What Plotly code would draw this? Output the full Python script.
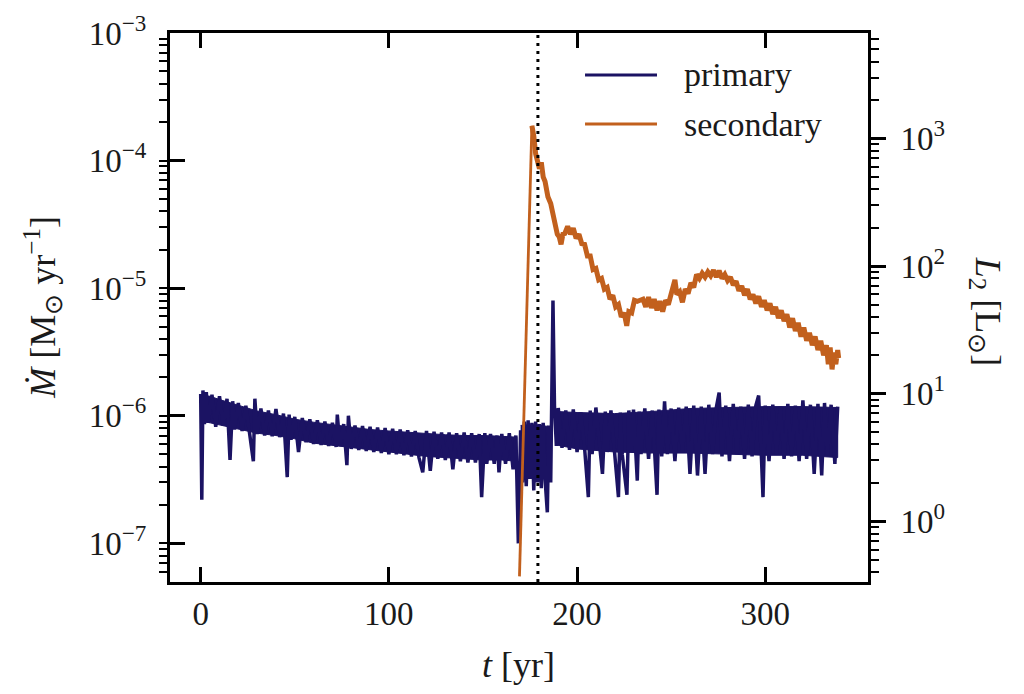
import plotly.graph_objects as go

# primary mass-loss rate (units of 1e-7 Msun/yr)
t_primary = [
    0.0, 0.6, 1.2, 2, 3, 4, 6, 8, 10, 12, 14, 15.6, 17, 18, 20, 22, 24, 26, 28, 28.8,
    30, 32, 34, 36, 38, 40, 42, 44, 46, 47, 48, 50, 52, 54, 56, 58, 60, 62, 64, 66,
    68, 70, 72, 72.6, 74, 76, 77.7, 78.5, 80, 82, 84, 86, 88, 90, 92, 94, 96, 98, 100, 102,
    104, 106, 108, 110, 112, 114, 116, 118, 120, 122, 124, 126, 128, 130, 132, 134, 136, 138, 140, 142,
    144, 146, 148, 149.3, 151, 152, 154, 156, 157.5, 158.5, 160, 162, 164, 166, 167.5, 168.8, 170, 171, 172, 173,
    174, 175, 176, 177, 178, 179, 180, 181, 182, 183, 184.2, 185, 186, 187.2, 188, 189, 190, 192, 194, 196,
    198, 200, 202, 204, 206, 207, 208, 210, 212, 213.5, 215, 216, 218, 220, 222, 223, 224, 226.5, 227.5, 229,
    230, 232, 233, 234, 236, 238, 240, 242.5, 243.5, 245, 246.5, 248, 250, 252, 254, 256, 258, 260, 262, 264,
    266, 268, 270, 272, 274, 275.5, 277, 279, 281, 283, 285, 287, 289, 291, 293, 295, 296.5, 298, 298.8, 300,
    302, 304, 306, 308, 310, 312, 314, 316, 318, 320, 322, 324, 326, 328, 330, 331.5, 333, 335, 337, 338.5,
]
mdot_primary = [
    14.8, 2.2, 15.8, 8.6, 15.3, 8.8, 14.6, 8.2, 14.2, 8.4, 13.6, 4.5, 13.0, 7.8, 12.6, 7.6, 12.0, 7.4, 4.4, 13.6,
    7.2, 11.4, 7.0, 11.0, 6.9, 11.3, 6.8, 10.4, 3.3, 10.2, 6.5, 9.8, 5.2, 9.6, 6.2, 9.4, 6.0, 9.2, 5.9, 9.0,
    5.8, 8.8, 5.7, 10.2, 5.8, 8.6, 4.1, 10.0, 5.5, 8.4, 5.4, 8.3, 5.3, 8.2, 5.2, 8.1, 5.1, 8.0, 5.0, 7.9,
    5.0, 7.8, 4.9, 7.7, 4.8, 7.6, 4.7, 3.6, 7.6, 3.7, 7.5, 4.6, 7.4, 4.5, 7.4, 3.8, 7.3, 4.4, 7.4, 4.3,
    7.3, 4.3, 7.2, 2.3, 7.3, 4.2, 7.2, 4.2, 7.0, 3.6, 7.2, 4.2, 7.3, 3.8, 7.0, 1.0, 7.7, 3.0, 9.0, 2.8,
    9.2, 3.2, 8.8, 2.6, 9.0, 3.0, 8.6, 2.7, 8.8, 3.2, 1.75, 8.4, 3.0, 80.0, 12.0, 5.8, 11.5, 5.6, 11.0, 5.4,
    11.2, 5.2, 10.6, 5.6, 2.3, 11.0, 5.0, 11.6, 5.4, 3.5, 10.8, 5.2, 11.0, 4.8, 2.3, 10.6, 5.0, 2.4, 11.0, 5.2,
    11.2, 3.1, 10.8, 5.0, 11.4, 4.6, 11.0, 2.4, 11.2, 4.8, 13.0, 5.0, 11.4, 4.4, 11.6, 5.2, 11.8, 3.5, 12.0, 3.4,
    11.8, 3.5, 12.2, 5.0, 11.6, 15.2, 4.8, 12.0, 4.4, 12.4, 5.0, 11.8, 4.6, 12.2, 4.8, 12.0, 14.4, 4.6, 2.3, 12.0,
    4.4, 12.2, 5.0, 11.8, 4.6, 12.4, 4.8, 12.0, 4.4, 13.2, 4.6, 12.2, 3.5, 12.4, 3.4, 12.6, 4.8, 12.2, 4.2, 11.8,
]

# dense part of the primary's noise band (upper / lower edge, 1e-7 Msun/yr)
band_t = [1.5, 5, 10, 20, 30, 40, 50, 60, 70, 80, 90, 100, 110, 120, 130, 140, 150, 160, 168,
          None, 170, 178, 186,
          None, 189, 200, 220, 240, 260, 280, 300, 320, 338.5]
band_hi = [14.5, 14.2, 13.4, 12.0, 10.9, 10.2, 9.4, 8.9, 8.5, 8.1, 7.8, 7.6, 7.4, 7.2, 7.1, 7.0, 7.0, 6.9, 6.8,
           None, 8.4, 8.5, 8.2,
           None, 10.8, 10.6, 10.4, 10.8, 11.4, 11.6, 11.8, 11.8, 11.6]
band_lo = [9.0, 8.8, 8.5, 7.9, 7.3, 7.0, 6.6, 6.1, 5.9, 5.6, 5.4, 5.2, 5.0, 4.8, 4.7, 4.6, 4.5, 4.5, 4.4,
           None, 3.3, 3.2, 3.3,
           None, 5.9, 5.5, 5.2, 5.1, 5.1, 5.0, 4.9, 4.9, 4.7]

# secondary L2 luminosity [Lsun]: initial rise, then the noisy decline
t_rise = [169.4, 176.0]
l2_rise = [0.37, 1260]
t_secondary = [
    176.0, 177.0, 178.0, 179.0, 180.0, 181.0, 182.0, 183.0, 184.5, 186.0, 187.5, 188.5, 189.5, 190.5,
    191.5, 192.5, 193.5, 195.0, 196.5, 198.0, 199.5, 201.0, 202.5, 204.0, 205.5, 207.0, 208.5, 210.0, 211.5,
    213.0, 214.5, 216.0, 217.5, 219.0, 220.5, 222.0, 223.5, 225.0, 226.4, 227.5, 229.0, 230.5, 232.0, 233.5,
    235.0, 236.5, 238.0, 239.5, 241.0, 242.5, 244.0, 245.5, 247.0, 248.5, 250.0, 251.0, 252.0, 253.0, 254.5,
    256.0, 257.5, 259.0, 260.5, 262.0, 263.5, 265.0, 266.5, 268.0, 269.5, 271.0, 272.5, 274.0, 275.5, 277.0,
    278.5, 280.0, 281.5, 283.0, 284.5, 286.0, 287.5, 289.0, 290.5, 292.0, 293.5, 295.0, 296.5, 298.0, 299.5,
    301.0, 302.5, 304.0, 305.5, 307.0, 308.5, 310.0, 311.5, 313.0, 314.5, 316.0, 317.5, 319.0, 320.5, 322.0,
    323.5, 325.0, 326.5, 328.0, 329.5, 331.0, 332.5, 333.5, 334.5, 335.5, 336.5, 337.5, 338.5, 339.0,
]
l2_secondary = [
    1260, 1050, 760, 620, 580, 650, 500, 460, 350, 310, 240, 225, 178, 170,
    148, 178, 180, 205, 178, 198, 165, 178, 150, 148, 120, 120, 94, 96, 78,
    80, 66, 68, 55, 59, 48, 50, 40, 43, 34, 44, 43, 54, 53, 54,
    55, 48, 57, 47, 55, 45, 53, 44, 54, 50, 61, 66, 78, 60, 63,
    52, 66, 61, 74, 68, 86, 80, 88, 82, 90, 84, 93, 82, 92, 80,
    86, 77, 82, 71, 76, 64, 70, 59, 66, 55, 60, 51, 58, 48, 54,
    45, 51, 42, 48, 39, 45, 37, 42, 33, 39, 31, 36, 28, 33, 26,
    30, 24, 28, 22, 26, 20, 24, 17, 23, 15.5, 21, 17, 22, 19,
]

t_disk = 179.2
legend_names = ["primary", "secondary"]
mdot_ticks = [1e-7, 1e-6, 1e-5, 1e-4, 1e-3]
mdot_ticktext = ["10<sup>−7</sup>", "10<sup>−6</sup>", "10<sup>−5</sup>", "10<sup>−4</sup>", "10<sup>−3</sup>"]
l2_ticks = [1, 10, 100, 1000]
l2_ticktext = ["10<sup>0</sup>", "10<sup>1</sup>", "10<sup>2</sup>", "10<sup>3</sup>"]

navy = "#1b1363"
orange = "#c2601d"
serif = "Liberation Serif"
ink = "#1a1a1a"


def scale(vals, f):
    return [None if v is None else v * f for v in vals]


def polygon(xs, hi, lo):
    # closed outline per segment (segments split by None)
    px, py, seg = [], [], []
    for x, a, b in list(zip(xs, hi, lo)) + [(None, None, None)]:
        if x is None:
            if seg:
                px += [s[0] for s in seg] + [s[0] for s in seg[::-1]] + [None]
                py += [s[1] for s in seg] + [s[2] for s in seg[::-1]] + [None]
            seg = []
        else:
            seg.append((x, a, b))
    return px, py


fig = go.Figure()
bx, by = polygon(band_t, scale(band_hi, 1e-7), scale(band_lo, 1e-7))
fig.add_trace(go.Scatter(x=bx, y=by, mode="lines", fill="toself", fillcolor=navy,
                         line=dict(color=navy, width=1), yaxis="y", hoverinfo="skip"))
fig.add_trace(go.Scatter(x=t_primary, y=scale(mdot_primary, 1e-7), mode="lines",
                         line=dict(color=navy, width=3.5), yaxis="y", name=legend_names[0]))
fig.add_trace(go.Scatter(x=t_rise, y=l2_rise, mode="lines",
                         line=dict(color=orange, width=2.8), yaxis="y2"))
fig.add_trace(go.Scatter(x=t_secondary, y=l2_secondary, mode="lines",
                         line=dict(color=orange, width=5), yaxis="y2", name=legend_names[1]))

# vertical dotted marker
fig.add_shape(type="line", xref="x", yref="paper", x0=t_disk, x1=t_disk, y0=0, y1=1,
              line=dict(color="black", width=3, dash="3px,5px"), layer="above")

# hand-made legend, matplotlib style (no frame)
for i, (name, col) in enumerate(zip(legend_names, [navy, orange])):
    yy = 0.9235 - i * 0.0893
    fig.add_shape(type="line", xref="paper", yref="paper", x0=0.5946, x1=0.6977, y0=yy, y1=yy,
                  line=dict(color=col, width=3))
    fig.add_annotation(xref="paper", yref="paper", x=0.733, y=yy, text=name, showarrow=False,
                       xanchor="left", yanchor="middle", font=dict(family=serif, size=34, color=ink))

# axis titles
titlefont = dict(family=serif, size=36, color=ink)
fig.add_annotation(xref="paper", yref="paper", x=0.4986, y=-0.151, showarrow=False,
                   xanchor="center", yanchor="middle", text="<i>t</i> [yr]", font=titlefont)
fig.add_annotation(xref="paper", yref="paper", x=-0.183, y=0.5, showarrow=False, textangle=-90,
                   xanchor="center", yanchor="middle",
                   text="<i>Ṁ</i> [M<sub>⊙</sub> yr<sup>−1</sup>]", font=titlefont)
fig.add_annotation(xref="paper", yref="paper", x=1.168, y=0.492, showarrow=False, textangle=90,
                   xanchor="center", yanchor="middle",
                   text="<i>L</i><sub>2</sub> [L<sub>⊙</sub>]", font=titlefont)

tickfont = dict(family=serif, size=33, color=ink)
fig.update_layout(
    width=1024, height=694,
    # page body adds 8px, so margins are shifted to keep the frame where the reference has it
    margin=dict(l=162, r=164, t=25, b=120, autoexpand=False),
    paper_bgcolor="white", plot_bgcolor="white",
    showlegend=False,
    xaxis=dict(range=[-16.3, 354.6], tickvals=[0, 100, 200, 300], ticks="inside", ticklen=15,
               tickwidth=2.5, tickcolor="black", showline=True, linewidth=3, linecolor="black",
               mirror="ticks", showgrid=False, zeroline=False, tickfont=tickfont,
               automargin=False),
    yaxis=dict(type="log", range=[-7.303, -3.0], tickvals=mdot_ticks, ticktext=mdot_ticktext,
               ticks="inside", ticklen=15, tickwidth=2.5, tickcolor="black",
               minor=dict(ticks="outside", ticklen=8, tickwidth=2, tickcolor="black", dtick="D1"),
               showline=True, linewidth=3, linecolor="black", showgrid=False, zeroline=False,
               tickfont=tickfont, ticklabelstandoff=14, automargin=False),
    yaxis2=dict(type="log", range=[-0.476, 3.827], tickvals=l2_ticks, ticktext=l2_ticktext,
                overlaying="y", side="right",
                ticks="outside", ticklen=15, tickwidth=2.5, tickcolor="black",
                minor=dict(ticks="outside", ticklen=8, tickwidth=2, tickcolor="black", dtick="D1"),
                showline=True, linewidth=3, linecolor="black", showgrid=False, zeroline=False,
                tickfont=tickfont, ticklabelstandoff=8, automargin=False),
)

fig.write_html("out.html")
